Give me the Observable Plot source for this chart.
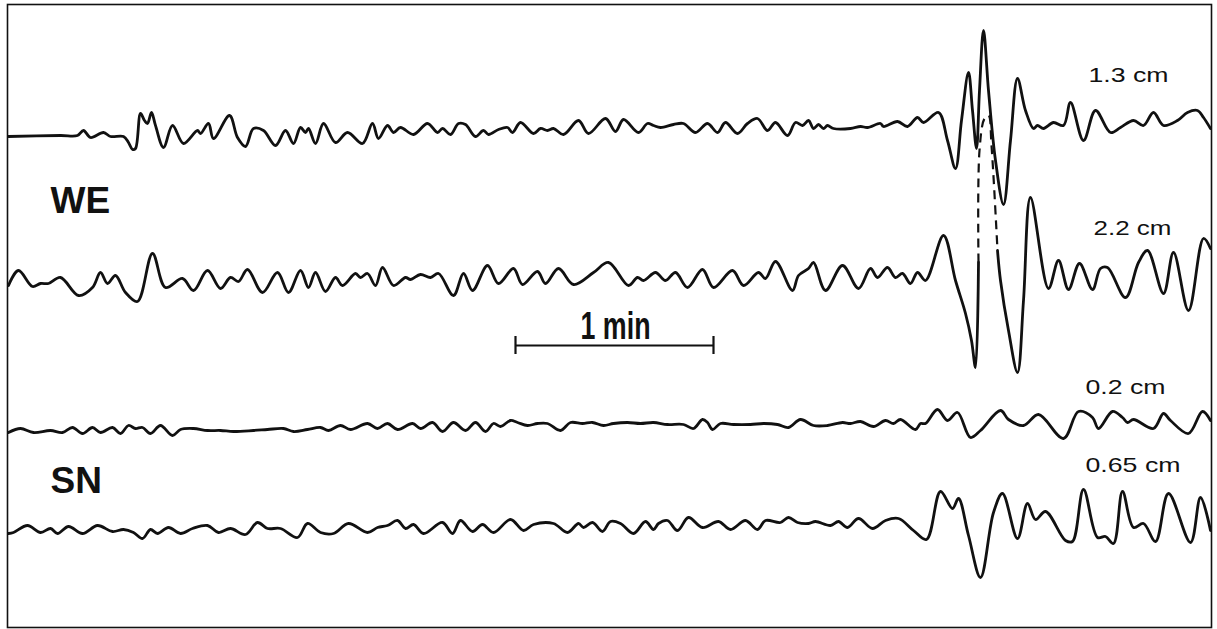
<!DOCTYPE html>
<html><head><meta charset="utf-8">
<script src="https://cdn.jsdelivr.net/npm/d3@7"></script>
<script src="https://cdn.jsdelivr.net/npm/@observablehq/plot@0.6"></script>
<style>body{margin:0;background:#fff}</style>
</head><body><div id="chart"></div>
<script>
// Record time (sample position along the record) and trace deflection readings
const weUpper = [[8,136],[60,135],[77,135],[83,130],[90,137],[103,132],[110,136],[123,136],[128,142],[132,149],[135,148],[140,113],[144,120],[147,123],[151,112],[155,125],[163,147],[172,125],[183,143],[197,130],[200,133],[208,123],[213,138],[229,115],[237,137],[245,146],[253,128],[263,130],[275,145],[285,130],[293,143],[300,127],[305,132],[308,128],[315,143],[323,123],[335,142],[347,132],[362,143],[372,123],[378,138],[387,125],[393,132],[400,127],[413,134],[427,123],[437,132],[442,128],[450,134],[458,123],[465,124],[475,136],[483,130],[488,134],[498,129],[507,127],[512,132],[520,122],[533,133],[540,128],[547,130],[553,128],[563,134],[578,120],[588,133],[605,118],[615,131],[623,119],[638,132],[647,123],[653,125],[660,127],[673,124],[683,123],[695,132],[707,123],[717,132],[725,122],[737,133],[747,123],[757,118],[767,130],[775,122],[787,135],[795,122],[802,125],[808,120],[813,128],[818,124],[823,128],[827,125],[833,128],[850,128],[860,126],[867,127],[880,123],[883,126],[897,121],[907,126],[917,117],[923,122],[938,112],[947,140],[955,168],[961,120],[968,72],[972,110],[976,148],[979,90],[983,30],[988,90],[995,160],[1003,204],[1010,140],[1017,78],[1025,110],[1033,128],[1037,125],[1043,128],[1053,122],[1063,125],[1070,102],[1083,140],[1095,110],[1110,132],[1120,127],[1133,120],[1143,125],[1153,112],[1163,125],[1177,120],[1187,112],[1197,110],[1203,117],[1210,128]];

const weLower = [[8,285],[18,270],[32,286],[40,283],[48,283],[60,277],[78,295],[92,287],[100,272],[107,283],[115,275],[125,292],[137,301],[152,253],[165,287],[182,278],[193,290],[207,270],[220,288],[230,277],[238,281],[247,269],[262,292],[277,272],[288,292],[300,270],[308,287],[315,272],[325,291],[335,277],[342,285],[355,273],[360,277],[367,273],[375,285],[382,267],[393,285],[405,277],[410,279],[420,274],[430,277],[438,273],[453,295],[463,273],[472,290],[487,265],[498,283],[513,268],[522,284],[537,271],[545,283],[558,268],[573,284],[593,272],[608,262],[628,285],[637,277],[643,280],[655,272],[665,280],[675,272],[687,287],[702,269],[713,287],[732,270],[743,285],[758,272],[765,278],[775,261],[792,290],[798,275],[808,268],[813,262],[825,290],[842,265],[858,288],[870,268],[877,277],[887,267],[895,277],[902,273],[910,283],[917,272],[925,280],[943,235],[955,280],[965,313],[971,340],[975,367],[978,262]];
const weLowerDashed = [[978,262],[979,150],[984,118],[988,115],[991,145],[997,250]];
const weLowerTail = [[997,250],[1000,280],[1008,330],[1017,372],[1023,300],[1030,197],[1048,288],[1058,260],[1068,289],[1079,263],[1092,289],[1100,268],[1107,267],[1125,297],[1138,262],[1147,250],[1163,293],[1173,252],[1188,310],[1203,238],[1210,248]];

const snUpper = [[8,432],[20,428],[33,432],[50,430],[62,432],[72,427],[82,433],[92,427],[100,432],[112,427],[120,433],[128,425],[135,428],[142,427],[150,433],[160,425],[172,435],[180,429],[193,428],[207,430],[220,430],[233,431],[253,430],[267,429],[283,428],[293,431],[307,429],[320,427],[328,430],[340,425],[350,429],[367,423],[377,428],[387,423],[397,429],[412,423],[420,428],[432,422],[442,431],[453,422],[465,430],[475,422],[485,431],[493,423],[500,426],[510,420],[517,422],[527,425],[537,423],[547,423],[560,430],[570,422],[582,423],[592,422],[603,425],[613,423],[627,422],[640,423],[653,422],[667,424],[683,424],[693,428],[702,419],[707,422],[712,429],[720,423],[733,424],[750,424],[763,423],[777,424],[788,427],[800,419],[813,425],[827,425],[842,422],[850,423],[860,421],[873,426],[885,420],[893,423],[900,419],[915,429],[920,423],[925,423],[937,409],[947,420],[957,412],[970,437],[980,430],[1000,410],[1008,419],[1023,425],[1038,414],[1063,438],[1078,411],[1092,417],[1098,428],[1112,411],[1122,417],[1127,422],[1133,419],[1153,428],[1163,413],[1170,420],[1188,433],[1202,411],[1210,420]];

const snLower = [[8,533],[13,532],[27,525],[40,532],[50,528],[57,533],[68,526],[82,533],[97,525],[112,531],[123,529],[133,532],[142,538],[150,529],[157,533],[168,527],[180,533],[192,528],[207,525],[218,532],[230,528],[245,534],[257,522],[267,528],[280,528],[297,537],[307,523],[320,532],[333,533],[348,523],[367,532],[377,527],[387,525],[397,520],[405,528],[413,524],[423,533],[442,522],[452,533],[460,520],[472,531],[482,524],[493,532],[510,519],[523,530],[533,524],[553,523],[567,532],[578,523],[583,527],[592,522],[602,531],[610,521],[620,523],[633,533],[645,521],[653,529],[658,523],[667,520],[677,530],[688,517],[702,527],[718,521],[730,529],[745,520],[757,529],[765,520],[780,522],[788,517],[797,522],[808,523],[815,521],[830,525],[838,521],[847,527],[858,518],[872,528],[885,520],[898,518],[913,530],[926,539],[940,491],[952,508],[958,498],[968,535],[980,577],[993,512],[1002,493],[1017,538],[1027,503],[1035,519],[1045,511],[1065,540],[1072,541],[1083,489],[1097,537],[1105,536],[1113,543],[1122,491],[1133,527],[1143,523],[1155,541],[1168,493],[1190,542],[1200,497],[1210,530]];

const componentNames = ["WE", "SN"];
const componentX = [50, 50];
const componentY = [201, 481];

const amplitudeLabels = ["1.3 cm", "2.2 cm", "0.2 cm", "0.65 cm"];
const amplitudeX = [1088, 1093, 1085, 1085];
const amplitudeY = [75, 228, 387, 465];
const amplitudeWidths = [80, 78, 80, 95];

const scaleBarStart = 515, scaleBarEnd = 713, scaleBarLevel = 345, scaleBarText = "1 min";

const xy = {x: d => d[0], y: d => d[1]};
const ink = "#111";
const traceStyle = {...xy, curve: "catmull-rom", stroke: ink, strokeWidth: 2.8, strokeLinejoin: "round", strokeLinecap: "round"};

const chart = Plot.plot({
  width: 1217, height: 629,
  marginLeft: 7, marginRight: 6, marginTop: 4, marginBottom: 2,
  x: {domain: [7, 1211], axis: null},
  y: {domain: [4, 627], reverse: true, axis: null},
  style: {background: "#fff"},
  marks: [
    Plot.frame({stroke: ink, strokeWidth: 1.6}),
    Plot.line(weUpper, traceStyle),
    Plot.line(weLower, traceStyle),
    Plot.line(weLowerDashed, {...traceStyle, strokeWidth: 2.2, strokeDasharray: "9,6", strokeLinecap: "butt"}),
    Plot.line(weLowerTail, traceStyle),
    Plot.line(snUpper, traceStyle),
    Plot.line(snLower, traceStyle),
    Plot.text(componentNames, {x: (d, i) => componentX[i], y: (d, i) => componentY[i], text: d => d,
      textAnchor: "start", fontSize: 37, fontWeight: "bold", fontFamily: "Liberation Sans, Arial, sans-serif", fill: ink}),
    Plot.text(amplitudeLabels, {x: (d, i) => amplitudeX[i], y: (d, i) => amplitudeY[i], text: d => d,
      textAnchor: "start", fontSize: 21, fontFamily: "Liberation Sans, Arial, sans-serif", fill: ink}),
    Plot.ruleY([scaleBarLevel], {x1: scaleBarStart, x2: scaleBarEnd, stroke: ink, strokeWidth: 2.2}),
    Plot.ruleX([scaleBarStart, scaleBarEnd], {y1: scaleBarLevel - 9, y2: scaleBarLevel + 9, stroke: ink, strokeWidth: 2.2}),
    Plot.text([scaleBarText], {x: 615, y: scaleBarLevel - 19, text: d => d,
      fontSize: 38, fontWeight: "bold", fontFamily: "Liberation Sans, Arial, sans-serif", fill: ink})
  ]
});
document.getElementById("chart").append(chart);

// condensed / widened lettering as in the original figure
const widths = new Map(amplitudeLabels.map((t, i) => [t, amplitudeWidths[i]]));
widths.set(scaleBarText, 70);
chart.querySelectorAll("text").forEach(el => {
  const w = widths.get(el.textContent);
  if (w) { el.setAttribute("textLength", w); el.setAttribute("lengthAdjust", "spacingAndGlyphs"); }
});
</script>
</body></html>
